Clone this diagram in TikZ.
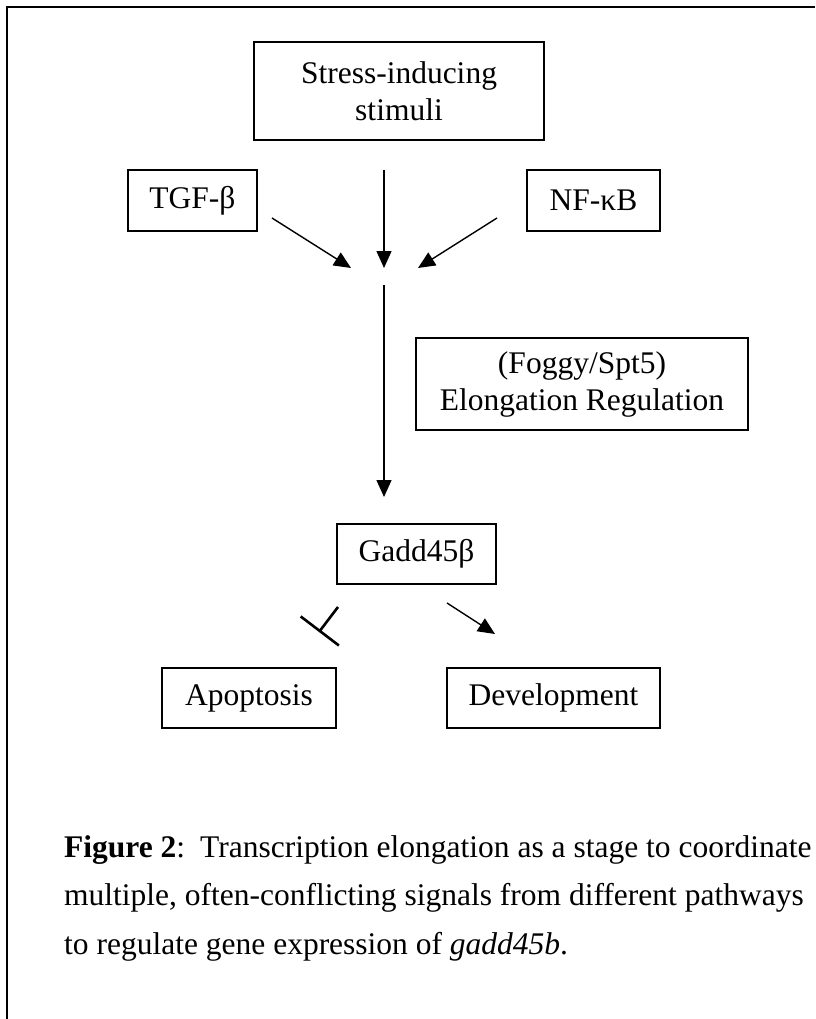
\documentclass[tikz,border=0pt]{standalone}
\usepackage{fontspec}
\setmainfont{Liberation Serif}
\usetikzlibrary{arrows.meta}
\begin{document}
\begin{tikzpicture}[x=1pt,y=-1pt,
  box/.style={draw, line width=1.5pt, inner sep=0pt, align=center,
              font=\fontsize{31.5}{37}\selectfont},
  link/.style={line width=1.4pt, -{Triangle[length=17pt,width=15pt]}},
  blockbar/.style={line width=2.6pt, -{Bar[width=48pt]}},
  capline/.style={anchor=base west, inner sep=0pt, font=\fontsize{31.5}{37}\selectfont}]
\useasboundingbox (0,0) rectangle (815,1019);
% frame (top and left edges)
\draw[line width=2pt] (7,1019) -- (7,7) -- (815,7);

% signal sources
\node[box, minimum width=290pt, minimum height=98pt] (stress) at (399,91) {Stress-inducing\\stimuli};
\node[box, minimum width=129pt, minimum height=61pt] (tgf) at (192.5,200.5) {TGF-β};
\node[box, minimum width=133pt, minimum height=61pt] (nfkb) at (593.5,200.5) {NF-κB};

% converging inputs
\coordinate (vtop) at (384,170);
\coordinate (meet) at (384,268);
\coordinate (ltail) at (272,218);
\coordinate (lhead) at (351,268);
\coordinate (rtail) at (497,218);
\coordinate (rhead) at (418,268);
\draw[link] (vtop) -- (meet);
\draw[link] (ltail) -- (lhead);
\draw[link] (rtail) -- (rhead);

% elongation step
\node[box, minimum width=332pt, minimum height=92pt] (elong) at (582,384) {(Foggy/Spt5)\\Elongation Regulation};
\node[box, minimum width=159pt, minimum height=60pt] (gadd) at (416.5,554) {Gadd45β};
\coordinate (vstart) at (384,285);
\coordinate (vend) at (384,497);
\draw[link] (vstart) -- (vend);

% outcomes
\node[box, minimum width=174pt, minimum height=60pt] (apop) at (249,698) {Apoptosis};
\node[box, minimum width=213pt, minimum height=60pt] (devel) at (553.5,698) {Development};
\coordinate (inhS) at (338,607);
\coordinate (inhE) at (319,632);
\draw[blockbar] (inhS) -- (inhE);
\coordinate (actS) at (447,603);
\coordinate (actE) at (495,634);
\draw[link] (actS) -- (actE);

% caption
\node[capline] (cap1) at (64,857) {\textbf{Figure 2}:\hspace{15pt}Transcription elongation as a stage to coordinate};
\node[capline] (cap2) at (64,905) {multiple, often-conflicting signals from different pathways};
\node[capline] (cap3) at (64,954) {to regulate gene expression of \textit{gadd45b}.};
\end{tikzpicture}
\end{document}
